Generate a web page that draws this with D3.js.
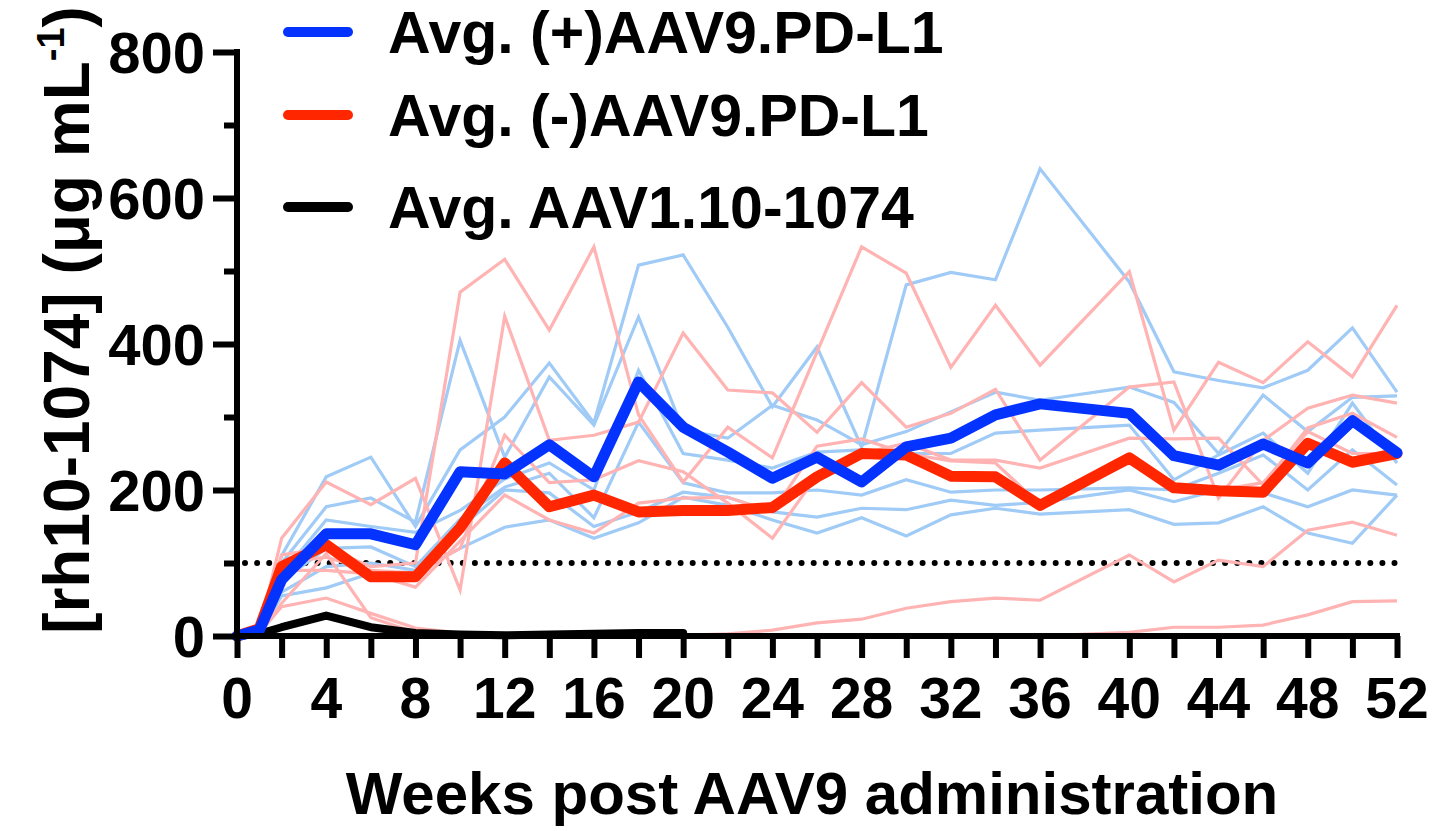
<!DOCTYPE html>
<html>
<head>
<meta charset="utf-8">
<script src="https://cdn.jsdelivr.net/npm/d3@7"></script>
<style>
  body { margin: 0; background: #fff; }
  text { font-family: "Liberation Sans", Arial, Helvetica, sans-serif; font-weight: bold; }
</style>
</head>
<body>
<svg id="chart"></svg>
<script>
// weeks post AAV9 administration
const weeks = [0,1,2,4,6,8,10,12,14,16,18,20,22,24,26,28,30,32,34,36,40,42,44,46,48,50,52];

// (+)AAV9.PD-L1 individual animals
const plus1 = [0,5,110,218,245,150,255,300,374,292,508,522,423,314,396,259,481,498,488,640,485,362,350,340,364,422,334];
const plus2 = [0,8,100,177,189,156,405,245,355,289,437,282,271,316,296,262,280,307,334,323,341,320,250,330,280,327,329];
const plus3 = [0,6,85,159,150,142,172,215,237,200,364,250,241,230,252,255,250,250,278,282,289,214,248,278,223,319,237];
const plus4 = [0,5,75,120,122,95,160,204,223,162,293,210,196,196,200,193,214,197,200,200,203,200,223,248,200,255,207];
const plus5 = [0,4,60,95,100,90,148,200,196,150,170,197,190,170,163,175,173,186,179,183,200,184,200,196,177,200,193];
const plus6 = [0,4,55,66,86,88,120,149,159,134,155,190,179,159,141,162,137,166,175,167,173,153,155,177,141,127,193];

// (-)AAV9.PD-L1 individual animals
const minus1 = [0,8,111,121,95,100,471,516,419,533,303,211,286,244,389,533,497,368,453,371,499,282,375,347,403,355,453];
const minus2 = [0,8,134,211,180,216,63,438,268,275,293,415,337,333,279,347,286,305,338,241,341,348,189,268,312,330,319];
const minus3 = [0,6,100,108,90,86,120,275,210,214,240,225,182,134,220,250,264,241,241,230,271,270,271,207,285,305,272];
const minus4 = [0,5,90,90,85,67,130,193,159,141,182,189,190,170,260,270,250,240,237,180,237,200,200,210,280,250,250];
const minus5 = [0,4,40,52,31,11,4,2,2,2,2,1,3,8,18,23,38,47,52,49,111,74,104,95,145,156,138];
const minus6 = [0,3,45,113,25,5,2,1,0,0,0,0,0,0,0,0,0,0,0,0,5,12,12,15,29,47,48];

// group averages
const avgPlus  = [0,8,77,140,140,125,225,222,262,218,348,286,252,216,245,211,259,271,303,318,305,247,234,263,237,295,251];
const avgMinus = [0,10,95,125,81,81,148,237,177,193,170,172,172,176,218,250,248,219,218,179,244,203,199,197,264,238,250];
const avgAAV110 = [0,3,12,28,12,4,2,1,2,3,4,4];        // weeks 0..20
const aav110Tail = [1,1,1,1,1,1,1,1,1,1,1,1,1,1,1,1];  // weeks 20..52, thin line at baseline

const legendLabels = ["Avg. (+)AAV9.PD-L1", "Avg. (-)AAV9.PD-L1", "Avg. AAV1.10-1074"];
const xTicks = d3.range(0, 53, 4);
const yTicks = [0, 200, 400, 600, 800];

const width = 1437, height = 831;
const svg = d3.select("#chart").attr("width", width).attr("height", height);

const x = d3.scaleLinear().domain([0, 52]).range([237, 1397]);
const y = d3.scaleLinear().domain([0, 800]).range([636, 52]);

const line = d3.line()
  .x(d => x(d[0]))
  .y(d => y(d[1]))
  .curve(d3.curveLinear);

const pair = (ws, vs) => vs.map((v, i) => [ws[i], v]);

// threshold line at 100
svg.append("line")
  .attr("x1", x(0) + 8).attr("x2", x(52))
  .attr("y1", y(100)).attr("y2", y(100))
  .attr("stroke", "black")
  .attr("stroke-width", 6)
  .attr("stroke-linecap", "round")
  .attr("stroke-dasharray", "0,12.1");

// thin individual lines
const thinPlus = [plus1, plus2, plus3, plus4, plus5, plus6];
const thinMinus = [minus1, minus2, minus3, minus4, minus5, minus6];

svg.selectAll(".plus")
  .data(thinPlus)
  .join("path")
  .attr("class", "plus")
  .attr("d", d => line(pair(weeks, d)))
  .attr("fill", "none")
  .attr("stroke", "#9fcbf6")
  .attr("stroke-width", 3.2);

svg.selectAll(".minus")
  .data(thinMinus)
  .join("path")
  .attr("class", "minus")
  .attr("d", d => line(pair(weeks, d)))
  .attr("fill", "none")
  .attr("stroke", "#ffb3b3")
  .attr("stroke-width", 3.2);

// AAV1.10-1074 thin tail at baseline
const tailWeeks = weeks.filter(w => w >= 20);
svg.append("path")
  .attr("d", line(pair(tailWeeks, aav110Tail)))
  .attr("fill", "none")
  .attr("stroke", "black")
  .attr("stroke-width", 3);

// averages
svg.append("path")
  .attr("d", line(pair(weeks, avgAAV110)))
  .attr("fill", "none")
  .attr("stroke", "black")
  .attr("stroke-width", 8)
  .attr("stroke-linecap", "round")
  .attr("stroke-linejoin", "round");

svg.append("path")
  .attr("d", line(pair(weeks, avgMinus)))
  .attr("fill", "none")
  .attr("stroke", "#ff2600")
  .attr("stroke-width", 11)
  .attr("stroke-linecap", "round")
  .attr("stroke-linejoin", "round");

svg.append("path")
  .attr("d", line(pair(weeks, avgPlus)))
  .attr("fill", "none")
  .attr("stroke", "#0433ff")
  .attr("stroke-width", 11)
  .attr("stroke-linecap", "round")
  .attr("stroke-linejoin", "round");

// y axis
const yAxis = svg.append("g")
  .attr("transform", `translate(${x(0)},0)`)
  .call(d3.axisLeft(y).tickValues(d3.range(0, 801, 100)).tickSize(0).tickFormat(""));
yAxis.select(".domain").attr("stroke", "black").attr("stroke-width", 6)
  .attr("d", `M0,${y(800) - 3}V${y(0) + 3}`);
yAxis.selectAll(".tick line")
  .attr("stroke", "black").attr("stroke-width", 6)
  .attr("x2", d => d % 200 === 0 ? -24 : -13);
yAxis.selectAll(".lbl")
  .data(yTicks)
  .join("text")
  .attr("class", "lbl")
  .attr("x", -32)
  .attr("y", d => y(d))
  .attr("dy", "0.36em")
  .attr("text-anchor", "end")
  .attr("font-size", 58)
  .attr("fill", "black")
  .text(d => d);

// x axis
const xAxis = svg.append("g")
  .attr("transform", `translate(0,${y(0)})`)
  .call(d3.axisBottom(x).tickValues(d3.range(0, 53, 2)).tickSize(0).tickFormat(""));
xAxis.select(".domain").attr("stroke", "black").attr("stroke-width", 6)
  .attr("d", `M${x(0) - 3},0H${x(52) + 3}`);
xAxis.selectAll(".tick line")
  .attr("stroke", "black").attr("stroke-width", 6)
  .attr("y2", 22);
xAxis.selectAll(".lbl")
  .data(xTicks)
  .join("text")
  .attr("class", "lbl")
  .attr("x", d => x(d))
  .attr("y", 82)
  .attr("text-anchor", "middle")
  .attr("font-size", 57)
  .attr("fill", "black")
  .text(d => d);

// axis titles
svg.append("text")
  .attr("x", 812)
  .attr("y", 814)
  .attr("text-anchor", "middle")
  .attr("font-size", 60)
  .text("Weeks post AAV9 administration");

const yTitle = svg.append("text")
  .attr("transform", `translate(89,320) rotate(-90)`)
  .attr("text-anchor", "middle")
  .attr("font-size", 64);
yTitle.append("tspan").text("[rh10-1074] (\u03bcg mL");
yTitle.append("tspan").attr("dy", -25).attr("font-size", 38).text("-1");
yTitle.append("tspan").attr("dy", 25).text(")");

// legend
const legendColors = ["#0433ff", "#ff2600", "black"];
const legendY = [32, 115, 207];
const legend = svg.selectAll(".legend")
  .data(legendLabels)
  .join("g")
  .attr("class", "legend")
  .attr("transform", (d, i) => `translate(0,${legendY[i]})`);
legend.append("line")
  .attr("x1", 288).attr("x2", 348)
  .attr("stroke", (d, i) => legendColors[i])
  .attr("stroke-width", 10)
  .attr("stroke-linecap", "round");
legend.append("text")
  .attr("x", 388)
  .attr("y", 0)
  .attr("dy", "0.36em")
  .attr("font-size", 59)
  .text(d => d);
</script>
</body>
</html>
